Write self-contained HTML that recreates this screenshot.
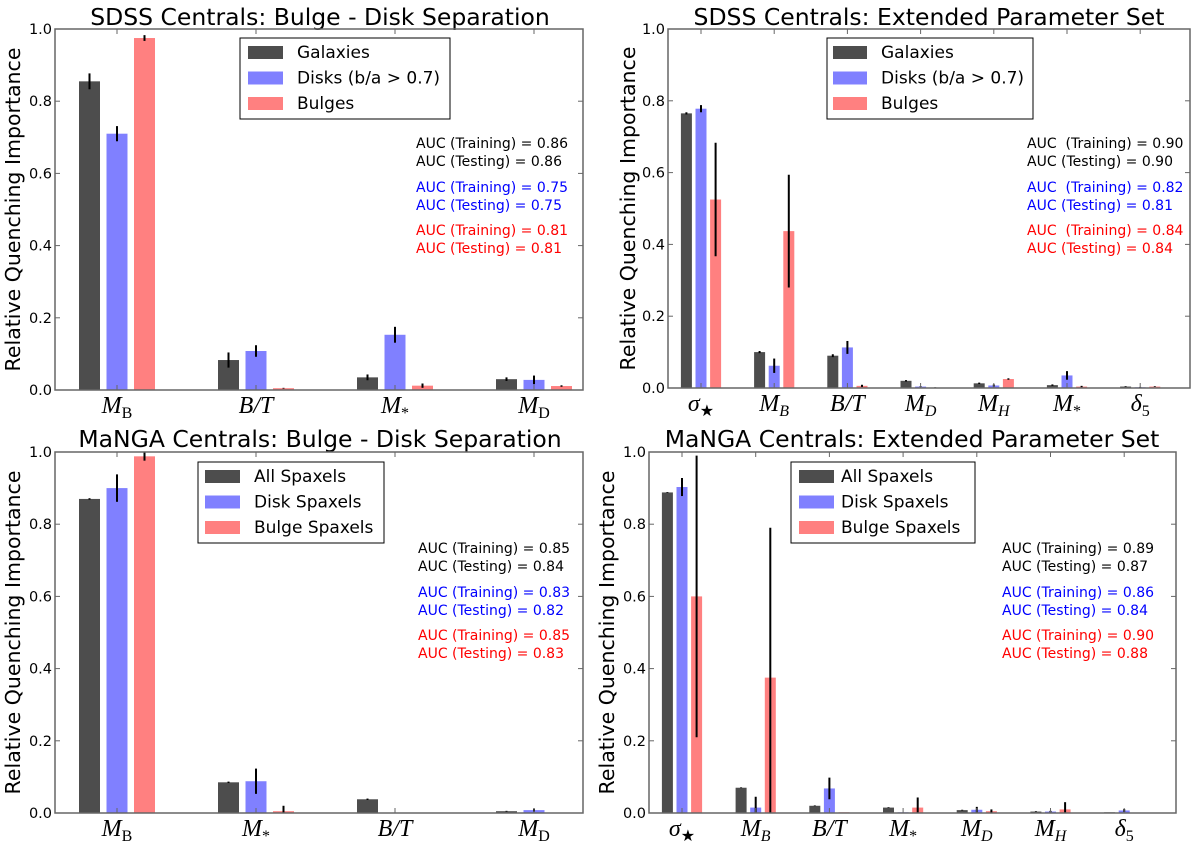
<!DOCTYPE html>
<html><head><meta charset="utf-8">
<style>
html,body{margin:0;padding:0;background:#fff;}
svg{display:block;font-family:"DejaVu Sans","Liberation Sans",sans-serif;}
</style></head>
<body>
<svg id="fig" width="1200" height="846" viewBox="0 0 1200 846" xmlns="http://www.w3.org/2000/svg"></svg>
<script>
// ---- Panel A: SDSS Bulge-Disk ----
const catsA = [["M","B",false],["B/T","",false],["M","*",false],["M","D",false]];
const galA = [0.855, 0.083, 0.035, 0.030];
const galErrA = [0.022, 0.021, 0.008, 0.005];
const diskA = [0.710, 0.108, 0.153, 0.028];
const diskErrA = [0.021, 0.016, 0.022, 0.012];
const bulgeA = [0.975, 0.005, 0.012, 0.011];
const bulgeErrA = [0.008, 0.001, 0.006, 0.002];
// ---- Panel B: SDSS Extended ----
const catsB = [["σ","★",false],["M","B",true],["B/T","",false],["M","D",true],["M","H",true],["M","*",false],["δ","5",false]];
const galB = [0.765, 0.100, 0.090, 0.020, 0.013, 0.008, 0.004];
const galErrB = [0.003, 0.003, 0.004, 0.002, 0.002, 0.002, 0.001];
const diskB = [0.778, 0.062, 0.113, 0.004, 0.007, 0.035, 0.002];
const diskErrB = [0.010, 0.020, 0.018, 0.001, 0.003, 0.012, 0.001];
const bulgeB = [0.525, 0.437, 0.006, 0.001, 0.025, 0.004, 0.004];
const bulgeErrB = [0.158, 0.157, 0.003, 0.001, 0.002, 0.002, 0.001];
// ---- Panel C: MaNGA Bulge-Disk ----
const catsC = [["M","B",false],["M","*",false],["B/T","",false],["M","D",false]];
const galC = [0.870, 0.085, 0.038, 0.005];
const galErrC = [0.002, 0.002, 0.002, 0.001];
const diskC = [0.900, 0.088, 0.000, 0.008];
const diskErrC = [0.038, 0.035, 0.000, 0.004];
const bulgeC = [0.988, 0.005, 0.000, 0.000];
const bulgeErrC = [0.012, 0.015, 0.000, 0.000];
// ---- Panel D: MaNGA Extended ----
const catsD = [["σ","★",false],["M","B",true],["B/T","",false],["M","*",false],["M","D",true],["M","H",true],["δ","5",false]];
const galD = [0.888, 0.070, 0.020, 0.015, 0.008, 0.004, 0.002];
const galErrD = [0.001, 0.001, 0.001, 0.001, 0.001, 0.001, 0.000];
const diskD = [0.903, 0.015, 0.068, 0.002, 0.009, 0.004, 0.007];
const diskErrD = [0.025, 0.030, 0.030, 0.000, 0.008, 0.002, 0.004];
const bulgeD = [0.600, 0.375, 0.002, 0.015, 0.005, 0.010, 0.001];
const bulgeErrD = [0.390, 0.415, 0.000, 0.028, 0.005, 0.020, 0.000];
const yTicks = ["0.0","0.2","0.4","0.6","0.8","1.0"];

const NS="http://www.w3.org/2000/svg";
const fig=document.getElementById('fig');
function mk(tag,attrs,parent){const e=document.createElementNS(NS,tag);for(const k in attrs)e.setAttribute(k,attrs[k]);(parent||fig).appendChild(e);return e;}
const COLORS=["#4d4d4d","#8080ff","#ff8080"];

function panel(p){
  const g=mk('g',{});
  
  
  const y=v=>p.y0+(p.y1-p.y0)*Math.max(0,Math.min(1,v));
  const t=mk('text',{x:p.tx,y:p.ty,'font-size':23.5,'text-anchor':'middle',fill:'#000'},g);
  t.textContent=p.title;
  
  
  const yl=mk('text',{x:0,y:0,'font-size':20.5,'text-anchor':'middle',transform:`translate(${p.ylx},${(p.y0+p.y1)/2}) rotate(-90)`,fill:'#000'},g);
  yl.textContent="Relative Quenching Importance";
  
  
  yTicks.forEach((lab,i)=>{
    const v=parseFloat(lab);const yy=y(v);
    const tl=mk('text',{x:p.x0-3,y:yy+5,'font-size':14.5,'text-anchor':'end',fill:'#000'},g);
    tl.textContent=lab;
    
    
    mk('line',{x1:p.x0,x2:p.x0+5,y1:yy,y2:yy,stroke:'#666','stroke-width':1},g);
    mk('line',{x1:p.x1,x2:p.x1-5,y1:yy,y2:yy,stroke:'#666','stroke-width':1},g);
  });
  const n=p.cats.length;
  const series=[[p.gal,p.galE],[p.disk,p.diskE],[p.bulge,p.bulgeE]];
  for(let i=0;i<n;i++){
    const cx=p.c0+i*p.pitch;
    series.forEach((s,j)=>{
      const bx=cx+(j-1)*p.bstep-p.bw/2;
      const v=s[0][i];
      const r=mk('rect',{x:bx,y:y(v),width:p.bw,height:Math.max(0,p.y0-y(v)),fill:COLORS[j]},g);
      
      
      const e=s[1][i];
      if(e>0){
        const el=mk('line',{x1:bx+p.bw/2,x2:bx+p.bw/2,y1:y(v-e),y2:y(v+e),stroke:'#000','stroke-width':2},g);
        
        
      }
    });
    mk('line',{x1:cx,x2:cx,y1:p.y0,y2:p.y0-5,stroke:'#666','stroke-width':1},g);
    mk('line',{x1:cx,x2:cx,y1:p.y1,y2:p.y1+5,stroke:'#666','stroke-width':1},g);
    const c=p.cats[i];
    const xl=mk('text',{x:cx,y:p.y0+23,'font-size':24,'text-anchor':'middle','font-family':'Liberation Serif, serif',fill:'#000'},g);
    
    
    const m=mk('tspan',{'font-style':'italic'},xl);m.textContent=c[0];
    if(c[1]){const s=mk('tspan',{'font-size':16,dy:5,'font-style':c[2]?'italic':'normal'},xl);s.textContent=c[1];}
  }
  const f=mk('rect',{x:p.x0,y:p.y1,width:p.x1-p.x0,height:p.y0-p.y1,fill:'none',stroke:'#666','stroke-width':1.5},g);
  
  
  const L=p.leg;
  const lg=mk('g',{},g);
  
  
  mk('rect',{x:L.x,y:L.y,width:L.w,height:81,fill:'#fff',stroke:'#000','stroke-width':1},lg);
  p.legNames.forEach((nm,j)=>{
    const cy=L.y+14+j*25.5;
    mk('rect',{x:L.sx,y:cy-6,width:L.sw,height:13,fill:COLORS[j]},lg);
    const lt=mk('text',{x:L.tx,y:cy+6,'font-size':17,fill:'#000'},lg);
    lt.textContent=nm;
    
    
  });
  const ys=[0,18,44,62,87,105];
  const cols=['#000','#000','#0000ff','#0000ff','#ff0000','#ff0000'];
  p.auc.forEach((s,k)=>{
    const at=mk('text',{x:p.ax,y:p.ay+ys[k]+5,'font-size':14,fill:cols[k]},g);
    at.setAttribute('style','white-space:pre');
    at.textContent=s;
    
    
  });
}

panel({name:'panel-sdss-bulge-disk',title:'SDSS Centrals: Bulge - Disk Separation',tx:320,ty:25,ylx:20,
  x0:55,x1:583,y0:390,y1:29,c0:117,pitch:139,bw:21,bstep:27.5,cats:catsA,
  gal:galA,galE:galErrA,disk:diskA,diskE:diskErrA,bulge:bulgeA,bulgeE:bulgeErrA,
  leg:{x:240,y:38,w:210,sx:248,sw:35,tx:297},legNames:['Galaxies','Disks (b/a > 0.7)','Bulges'],
  ax:416,ay:143,auc:['AUC (Training) = 0.86','AUC (Testing) = 0.86','AUC (Training) = 0.75','AUC (Testing) = 0.75','AUC (Training) = 0.81','AUC (Testing) = 0.81']});
panel({name:'panel-sdss-extended',title:'SDSS Centrals: Extended Parameter Set',tx:929,ty:25,ylx:635,
  x0:668,x1:1190,y0:388,y1:29,c0:701,pitch:73.2,bw:11,bstep:14.6,cats:catsB,
  gal:galB,galE:galErrB,disk:diskB,diskE:diskErrB,bulge:bulgeB,bulgeE:bulgeErrB,
  leg:{x:827,y:38,w:206,sx:833,sw:34,tx:881},legNames:['Galaxies','Disks (b/a > 0.7)','Bulges'],
  ax:1027,ay:143,auc:['AUC  (Training) = 0.90','AUC (Testing) = 0.90','AUC  (Training) = 0.82','AUC (Testing) = 0.81','AUC  (Training) = 0.84','AUC (Testing) = 0.84']});
panel({name:'panel-manga-bulge-disk',title:'MaNGA Centrals: Bulge - Disk Separation',tx:320,ty:447,ylx:20,
  x0:55,x1:583,y0:813,y1:452,c0:117,pitch:139,bw:21,bstep:27.5,cats:catsC,
  gal:galC,galE:galErrC,disk:diskC,diskE:diskErrC,bulge:bulgeC,bulgeE:bulgeErrC,
  leg:{x:198,y:462,w:186,sx:205,sw:35,tx:254},legNames:['All Spaxels','Disk Spaxels','Bulge Spaxels'],
  ax:418,ay:548,auc:['AUC (Training) = 0.85','AUC (Testing) = 0.84','AUC (Training) = 0.83','AUC (Testing) = 0.82','AUC (Training) = 0.85','AUC (Testing) = 0.83']});
panel({name:'panel-manga-extended',title:'MaNGA Centrals: Extended Parameter Set',tx:912,ty:447,ylx:614,
  x0:649,x1:1176,y0:813,y1:452,c0:682,pitch:73.7,bw:11,bstep:14.6,cats:catsD,
  gal:galD,galE:galErrD,disk:diskD,diskE:diskErrD,bulge:bulgeD,bulgeE:bulgeErrD,
  leg:{x:791,y:462,w:184,sx:799,sw:35,tx:841},legNames:['All Spaxels','Disk Spaxels','Bulge Spaxels'],
  ax:1002,ay:548,auc:['AUC (Training) = 0.89','AUC (Testing) = 0.87','AUC (Training) = 0.86','AUC (Testing) = 0.84','AUC (Training) = 0.90','AUC (Testing) = 0.88']});
</script>
</body></html>
